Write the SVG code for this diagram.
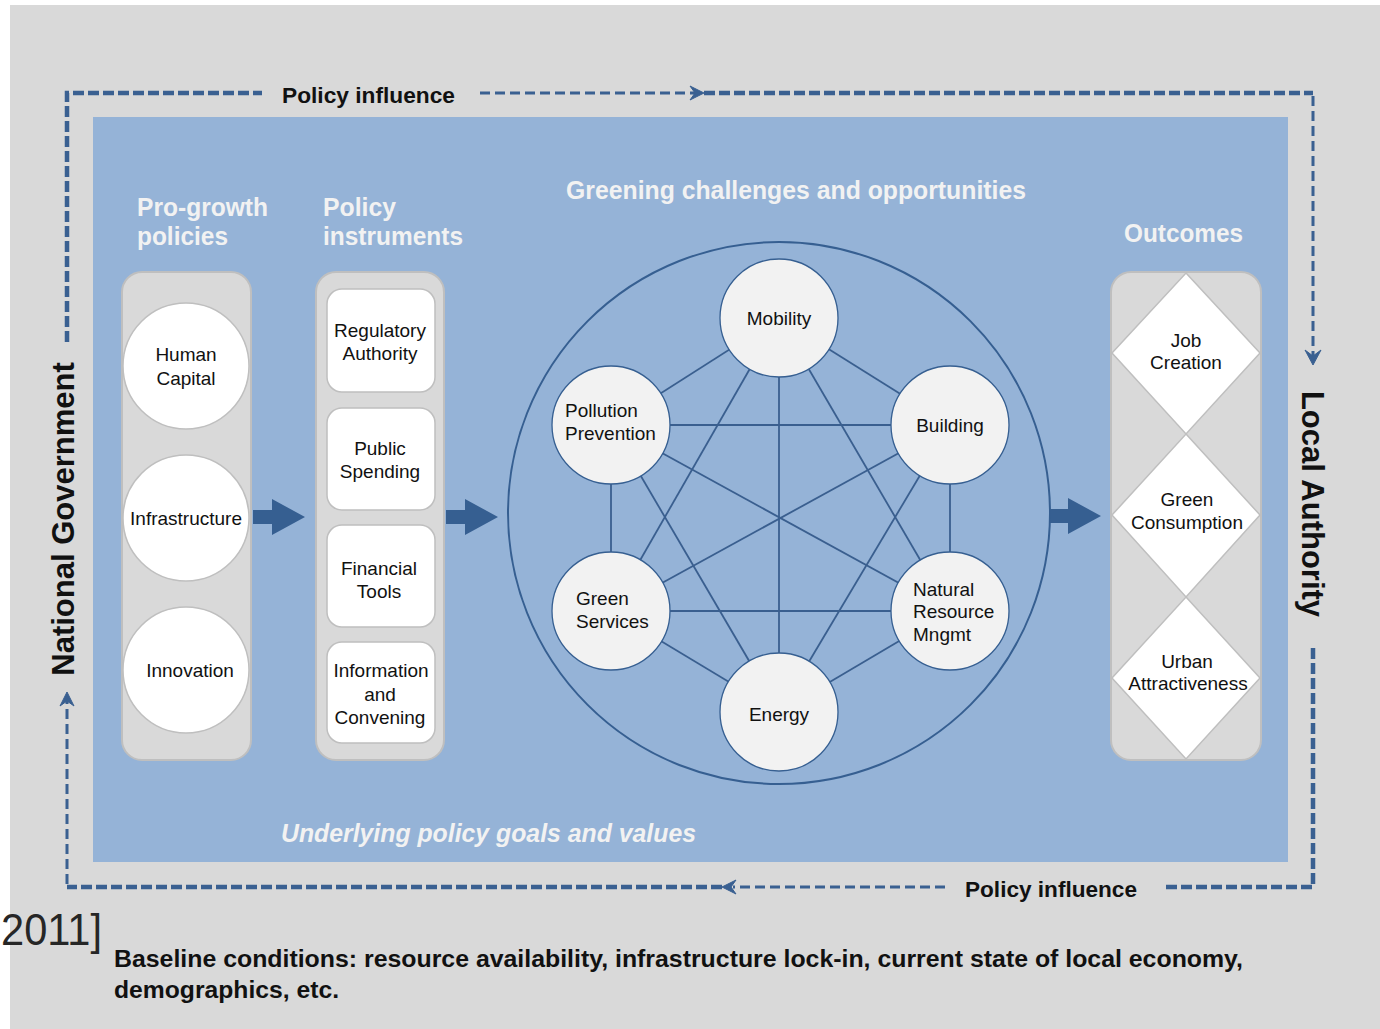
<svg xmlns="http://www.w3.org/2000/svg" width="1380" height="1029" viewBox="0 0 1380 1029">
<defs>
<style>
.bg{fill:#d9d9d9}
.panel{fill:#95b3d7}
.col{fill:#d9d9d9;stroke:#bfbfbf;stroke-width:2}
.wc{fill:#ffffff;stroke:#bfbfbf;stroke-width:1.5}
.box{fill:#ffffff;stroke:#bfbfbf;stroke-width:1.5}
.dia{fill:#ffffff;stroke:#bfbfbf;stroke-width:1.5}
.net{fill:#f2f2f2;stroke:#365f91;stroke-width:1.3}
.edge{stroke:#3a5f8f;stroke-width:1.8;fill:none}
.ring{fill:none;stroke:#365f91;stroke-width:2}
.lbl{font-family:"Liberation Sans",Arial,sans-serif;font-size:19px;fill:#111111}
.mid{text-anchor:middle}
.head{font-family:"Liberation Sans Narrow","Liberation Sans",Arial,sans-serif;font-size:25px;font-weight:bold;fill:#f2f2f2}
.big{font-family:"Liberation Sans",Arial,sans-serif;font-size:31px;font-weight:bold;fill:#111111}
.pi{font-family:"Liberation Sans Narrow","Liberation Sans",Arial,sans-serif;font-size:22px;font-weight:bold;fill:#111111}
.cap{font-family:"Liberation Sans Narrow","Liberation Sans",Arial,sans-serif;font-size:23px;font-weight:bold;fill:#111111}
.heavy{fill:none;stroke:#3a6091;stroke-width:4.5;stroke-dasharray:11 4}
.thin{fill:none;stroke:#3a6091;stroke-width:3;stroke-dasharray:10 5}
.ah{fill:#3a6091;stroke:#3a6091;stroke-width:1;stroke-linejoin:round}
.blk{fill:#365f91}
</style>
<path id="blockArrow" d="M0,-7 H19 V-18 L52,0 L19,18 V7 H0 Z"/>
</defs>

<rect x="0" y="0" width="1380" height="1029" fill="#ffffff"/>
<rect class="bg" x="10" y="5" width="1370" height="1024"/>
<rect class="panel" x="93" y="117" width="1195" height="745"/>

<!-- headings -->
<g id="headings">
<text class="head" x="137" y="216" textLength="131" lengthAdjust="spacingAndGlyphs">Pro-growth</text>
<text class="head" x="137" y="245" textLength="91" lengthAdjust="spacingAndGlyphs">policies</text>
<text class="head" x="323" y="216" textLength="73" lengthAdjust="spacingAndGlyphs">Policy</text>
<text class="head" x="323" y="245" textLength="140" lengthAdjust="spacingAndGlyphs">instruments</text>
<text class="head" x="566" y="199" textLength="460" lengthAdjust="spacingAndGlyphs">Greening challenges and opportunities</text>
<text class="head" x="1124" y="242" textLength="119" lengthAdjust="spacingAndGlyphs">Outcomes</text>
<text class="head" x="281" y="842" font-style="italic" textLength="415" lengthAdjust="spacingAndGlyphs">Underlying policy goals and values</text>
</g>

<!-- connectors -->
<g id="connectors">
<g id="loop">
<path class="heavy" d="M67,342 V93 H262"/>
<path class="thin" d="M480,93 H695"/>
<path class="heavy" d="M704,93 H1313"/>
<path class="thin" d="M1313,96 V356"/>
<path class="ah" d="M1305,350 L1313,365 L1321,350 L1313,356 Z"/>
<path class="ah" d="M690,86 L704,93 L690,100 L695,93 Z"/>
<path class="heavy" d="M1313,648 V887 H1165"/>
<path class="thin" d="M945,887 H733"/>
<path class="ah" d="M736,880 L722,887 L736,894 L731,887 Z"/>
<path class="heavy" d="M722,887 H67"/>
<path class="thin" d="M67,884 V700"/>
<path class="ah" d="M60,706 L67,692 L74,706 L67,701 Z"/>
</g>
<g id="edges">
<line class="edge" x1="779" y1="318" x2="611" y2="425"/>
<line class="edge" x1="779" y1="318" x2="950" y2="425"/>
<line class="edge" x1="779" y1="318" x2="611" y2="611"/>
<line class="edge" x1="779" y1="318" x2="950" y2="611"/>
<line class="edge" x1="779" y1="318" x2="779" y2="712"/>
<line class="edge" x1="611" y1="425" x2="950" y2="425"/>
<line class="edge" x1="611" y1="425" x2="611" y2="611"/>
<line class="edge" x1="611" y1="425" x2="950" y2="611"/>
<line class="edge" x1="611" y1="425" x2="779" y2="712"/>
<line class="edge" x1="950" y1="425" x2="611" y2="611"/>
<line class="edge" x1="950" y1="425" x2="950" y2="611"/>
<line class="edge" x1="950" y1="425" x2="779" y2="712"/>
<line class="edge" x1="611" y1="611" x2="950" y2="611"/>
<line class="edge" x1="611" y1="611" x2="779" y2="712"/>
<line class="edge" x1="950" y1="611" x2="779" y2="712"/>
</g>
<g id="flow">
<use href="#blockArrow" class="blk" transform="translate(253,517)"/>
<use href="#blockArrow" class="blk" transform="translate(446,517)"/>
<use href="#blockArrow" class="blk" transform="translate(1049,516)"/>
</g>
</g>

<!-- side labels -->
<text class="big" transform="translate(74,519) rotate(-90)" text-anchor="middle">National Government</text>
<text class="big" transform="translate(1302,504) rotate(90)" text-anchor="middle">Local Authority</text>
<text class="pi" x="282" y="103" textLength="173" lengthAdjust="spacingAndGlyphs">Policy influence</text>
<text class="pi" x="965" y="897" textLength="172" lengthAdjust="spacingAndGlyphs">Policy influence</text>

<!-- pro-growth column -->
<g id="pro-growth-policies">
<rect class="col" x="122" y="272" width="129" height="488" rx="20"/>
<g id="human-capital"><circle class="wc" cx="186" cy="366" r="63"/>
<text class="lbl mid" x="186" y="361">Human</text><text class="lbl mid" x="186" y="385">Capital</text></g>
<g id="infrastructure"><circle class="wc" cx="186" cy="518" r="63"/>
<text class="lbl mid" x="186" y="525">Infrastructure</text></g>
<g id="innovation"><circle class="wc" cx="186" cy="670" r="63"/>
<text class="lbl mid" x="190" y="677">Innovation</text></g>
</g>

<!-- policy instruments -->
<g id="policy-instruments">
<rect class="col" x="316" y="272" width="128" height="488" rx="20"/>
<g id="regulatory-authority"><rect class="box" x="327" y="289" width="108" height="103" rx="15"/>
<text class="lbl mid" x="380" y="337">Regulatory</text><text class="lbl mid" x="380" y="360">Authority</text></g>
<g id="public-spending"><rect class="box" x="327" y="408" width="108" height="102" rx="15"/>
<text class="lbl mid" x="380" y="455">Public</text><text class="lbl mid" x="380" y="478">Spending</text></g>
<g id="financial-tools"><rect class="box" x="327" y="525" width="108" height="102" rx="15"/>
<text class="lbl mid" x="379" y="575">Financial</text><text class="lbl mid" x="379" y="598">Tools</text></g>
<g id="information-convening"><rect class="box" x="327" y="642" width="108" height="101" rx="15"/>
<text class="lbl mid" x="381" y="677">Information</text><text class="lbl mid" x="380" y="701">and</text><text class="lbl mid" x="380" y="724">Convening</text></g>
</g>

<!-- greening network -->
<g id="greening">
<circle class="ring" cx="779" cy="513" r="271"/>
<g id="mobility"><circle class="net" cx="779" cy="318" r="59"/><text class="lbl mid" x="779" y="325">Mobility</text></g>
<g id="pollution-prevention"><circle class="net" cx="611" cy="425" r="59"/><text class="lbl" x="565" y="417">Pollution</text><text class="lbl" x="565" y="440">Prevention</text></g>
<g id="building"><circle class="net" cx="950" cy="425" r="59"/><text class="lbl mid" x="950" y="432">Building</text></g>
<g id="green-services"><circle class="net" cx="611" cy="611" r="59"/><text class="lbl" x="576" y="605">Green</text><text class="lbl" x="576" y="628">Services</text></g>
<g id="natural-resource"><circle class="net" cx="950" cy="611" r="59"/><text class="lbl" x="913" y="596">Natural</text><text class="lbl" x="913" y="618">Resource</text><text class="lbl" x="913" y="641">Mngmt</text></g>
<g id="energy"><circle class="net" cx="779" cy="712" r="59"/><text class="lbl mid" x="779" y="721">Energy</text></g>
</g>

<!-- outcomes -->
<g id="outcomes">
<rect class="col" x="1111" y="272" width="150" height="488" rx="20"/>
<g id="job-creation"><polygon class="dia" points="1186,273 1260,353 1186,434 1112,353"/>
<text class="lbl mid" x="1186" y="347">Job</text><text class="lbl mid" x="1186" y="369">Creation</text></g>
<g id="green-consumption"><polygon class="dia" points="1186,434 1260,515 1186,597 1112,515"/>
<text class="lbl mid" x="1187" y="506">Green</text><text class="lbl mid" x="1187" y="529">Consumption</text></g>
<g id="urban-attractiveness"><polygon class="dia" points="1186,597 1260,678 1186,759 1112,678"/>
<text class="lbl mid" x="1187" y="668">Urban</text><text class="lbl mid" x="1188" y="690">Attractiveness</text></g>
</g>

<!-- caption -->
<text x="1" y="945" font-family="Liberation Sans, Arial, sans-serif" font-size="45" fill="#262626" textLength="101" lengthAdjust="spacingAndGlyphs">2011]</text>
<text class="cap" x="114" y="967" textLength="1129" lengthAdjust="spacingAndGlyphs">Baseline conditions: resource availability, infrastructure lock-in, current state of local economy,</text>
<text class="cap" x="114" y="998" textLength="225" lengthAdjust="spacingAndGlyphs">demographics, etc.</text>
</svg>
